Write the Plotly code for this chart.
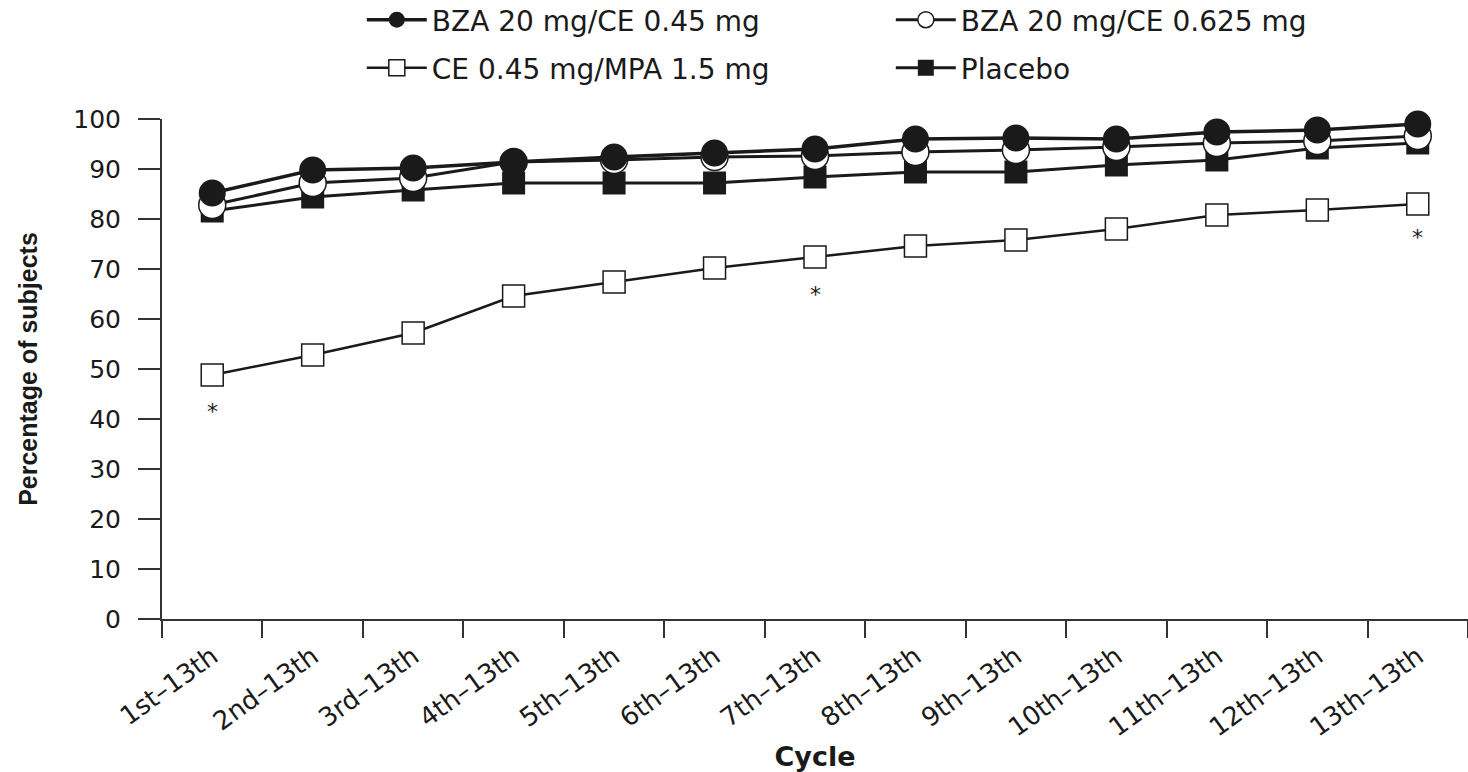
import plotly.graph_objects as go

cycles = ["1st–13th", "2nd–13th", "3rd–13th", "4th–13th", "5th–13th", "6th–13th",
          "7th–13th", "8th–13th", "9th–13th", "10th–13th", "11th–13th", "12th–13th", "13th–13th"]

bza_045 = [85.2, 89.8, 90.2, 91.4, 92.4, 93.2, 94.0, 96.0, 96.2, 96.0, 97.4, 97.8, 99.0]
bza_0625 = [82.8, 87.2, 88.2, 91.4, 91.8, 92.4, 92.6, 93.4, 93.8, 94.4, 95.2, 95.6, 96.6]
ce_mpa = [48.8, 52.8, 57.2, 64.6, 67.4, 70.2, 72.4, 74.6, 75.8, 78.0, 80.8, 81.8, 83.0]
placebo = [81.6, 84.4, 85.8, 87.2, 87.2, 87.2, 88.4, 89.4, 89.4, 90.8, 91.8, 94.2, 95.2]

star_cycles = ["1st–13th", "7th–13th", "13th–13th"]
star_y = [41.5, 65.0, 76.3]

INK = "#1a1a1a"
WIDE = "DejaVu Sans, Verdana, sans-serif"
ARIAL = "Liberation Sans, Arial, sans-serif"

fig = go.Figure()

fig.add_trace(go.Scatter(
    x=cycles, y=ce_mpa, name="CE 0.45 mg/MPA 1.5 mg", mode="lines+markers",
    line=dict(color=INK, width=2.5),
    marker=dict(symbol="square", size=22, color="white", line=dict(color=INK, width=1.5)),
    legend="legend2", legendrank=1, cliponaxis=False))
fig.add_trace(go.Scatter(
    x=cycles, y=placebo, name="Placebo", mode="lines+markers",
    line=dict(color=INK, width=3),
    marker=dict(symbol="square", size=23, color=INK, line=dict(color=INK, width=0)),
    legend="legend2", legendrank=2, cliponaxis=False))
fig.add_trace(go.Scatter(
    x=cycles, y=bza_0625, name="BZA 20 mg/CE 0.625 mg", mode="lines+markers",
    line=dict(color=INK, width=3),
    marker=dict(symbol="circle", size=27, color="white", line=dict(color=INK, width=1.5)),
    legend="legend", legendrank=2, cliponaxis=False))
fig.add_trace(go.Scatter(
    x=cycles, y=bza_045, name="BZA 20 mg/CE 0.45 mg", mode="lines+markers",
    line=dict(color=INK, width=3.5),
    marker=dict(symbol="circle", size=27, color=INK, line=dict(color=INK, width=0)),
    legend="legend", legendrank=1, cliponaxis=False))

for c, yv in zip(star_cycles, star_y):
    fig.add_annotation(x=c, y=yv, text="*", showarrow=False,
                       font=dict(size=22, color=INK, family=WIDE))

legend_common = dict(orientation="h", xanchor="left", yanchor="middle",
                     font=dict(size=28, color=INK, family=WIDE),
                     itemwidth=60, entrywidth=454, bgcolor="rgba(0,0,0,0)",
                     traceorder="normal")

fig.update_layout(
    width=1468, height=772,
    margin=dict(l=162, r=0, t=119, b=153, autoexpand=False),
    paper_bgcolor="white", plot_bgcolor="white",
    font=dict(family=ARIAL, color=INK),
    legend=dict(x=0.153, y=1.198, **legend_common),
    legend2=dict(x=0.153, y=1.102, **legend_common),
    xaxis=dict(
        type="category", categoryorder="array", categoryarray=cycles,
        range=[-0.5, 12.5], showline=True, linecolor="#333", linewidth=2,
        ticks="outside", ticklen=17, tickwidth=2, tickcolor="#333",
        tickson="boundaries", tickangle=-36, showgrid=False, zeroline=False,
        ticklabelstandoff=10,
        tickfont=dict(size=26, color=INK, family=WIDE),
        title=dict(text="<b>Cycle</b>", font=dict(size=27, color=INK, family=WIDE), standoff=6),
        automargin=False,
    ),
    yaxis=dict(
        range=[0, 100], tickvals=list(range(0, 101, 10)), showline=True,
        linecolor="#333", linewidth=2, ticks="outside", ticklen=22, tickwidth=2,
        tickcolor="#333", showgrid=False, zeroline=False, ticklabelstandoff=12,
        tickfont=dict(size=25, color=INK, family=WIDE),
        title=dict(text="<b>Percentage of subjects</b>", font=dict(size=25, color=INK, family=ARIAL), standoff=29),
        automargin=False,
    ),
)

fig.write_html("out.html")
